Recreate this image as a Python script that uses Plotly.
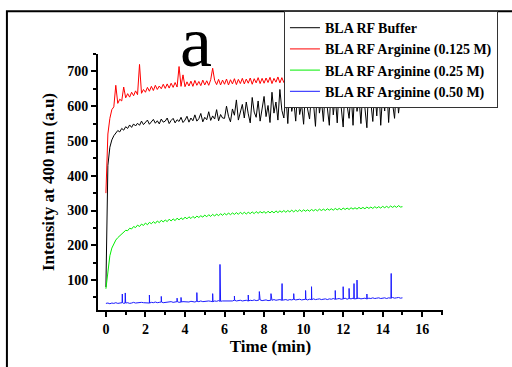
import plotly.graph_objects as go

# ---------------- data ----------------
time_min = [round(i * 0.1, 1) for i in range(151)]

buffer_vals = [
    80, 430, 482, 503, 515, 522, 530, 526, 536, 531,
    541, 536, 546, 539, 549, 543, 551, 545, 557, 547,
    553, 560, 548, 556, 562, 551, 558, 549, 563, 554,
    557, 566, 550, 559, 565, 552, 561, 556, 568, 553,
    560, 571, 554, 566, 558, 575, 557, 564, 579, 555,
    568, 561, 584, 559, 572, 563, 590, 558, 576, 566,
    565, 600, 571, 555, 592, 574, 618, 560, 585, 605,
    566, 612, 578, 552, 625, 583, 568, 615, 557, 596,
    628, 570, 602, 553, 640, 580, 612, 560, 648, 588,
    566, 635, 550, 655, 585, 618, 557, 645, 576, 605,
    548, 650, 592, 563, 636, 608, 542, 662, 580, 620,
    556, 645, 598, 545, 668, 575, 628, 552, 655, 590,
    540, 665, 602, 565, 640, 545, 672, 585, 625, 550,
    658, 595, 538, 668, 610, 556, 646, 572, 662, 545,
    638, 586, 666, 553, 650, 600, 565, 658, 580, 630,
    605,
]

arg0125_vals = [
    350, 520, 565, 590, 598, 660, 608, 620, 615, 655,
    624, 636, 626, 640, 630, 644, 633, 720, 637, 648,
    640, 654, 643, 657, 645, 660, 648, 658, 650, 663,
    651, 664, 652, 666, 654, 668, 655, 714, 657, 690,
    656, 670, 658, 672, 657, 674, 660, 671, 659, 675,
    661, 673, 660, 676, 709, 674, 662, 677, 661, 675,
    663, 678, 661, 676, 664, 679, 662, 677, 665, 680,
    664, 678, 666, 681, 663, 679, 667, 682, 665, 680,
    666, 681, 668, 683, 665, 680, 669, 684, 667, 682,
    668, 683, 670, 685, 667, 682, 671, 686, 669, 684,
    670, 685, 672, 687, 669, 684, 673, 688, 671, 686,
    672, 687, 674, 689, 671, 686, 675, 690, 673, 688,
    674, 688, 676, 691, 673, 687, 677, 692, 675, 689,
    676, 690, 678, 693, 675, 689, 679, 694, 677, 691,
    678, 692, 680, 695, 677, 690, 681, 696, 679, 693,
    684,
]

arg025_vals = [
    75, 130, 170, 192, 205, 215, 222, 228, 233, 237,
    243, 242, 249, 247, 254, 251, 258, 254, 261, 257,
    264, 259, 266, 262, 268, 263, 270, 265, 272, 267,
    273, 268, 275, 270, 276, 271, 278, 273, 279, 274,
    281, 276, 282, 277, 283, 278, 284, 280, 285, 281,
    287, 282, 288, 283, 289, 284, 290, 285, 291, 286,
    292, 287, 293, 288, 293, 289, 294, 289, 295, 290,
    295, 290, 295, 291, 296, 291, 297, 292, 297, 293,
    297, 292, 298, 293, 298, 293, 299, 294, 299, 295,
    300, 295, 300, 296, 301, 296, 301, 297, 302, 297,
    302, 298, 302, 298, 303, 299, 303, 299, 304, 300,
    304, 300, 305, 301, 305, 301, 306, 302, 306, 302,
    307, 303, 307, 303, 308, 304, 308, 304, 309, 305,
    309, 305, 310, 306, 310, 306, 311, 307, 311, 307,
    312, 308, 312, 308, 313, 309, 313, 309, 314, 310,
    311,
]

arg050_base = [
    33, 34, 32, 34, 33, 35, 33, 34, 35, 33,
    34, 35, 33, 34, 36, 34, 35, 34, 36, 35,
    35, 36, 34, 36, 35, 37, 35, 36, 37, 35,
    36, 37, 36, 38, 36, 37, 38, 36, 37, 38,
    37, 38, 37, 39, 38, 37, 39, 38, 40, 38,
    39, 38, 40, 39, 38, 40, 39, 41, 39, 40,
    40, 41, 39, 41, 40, 42, 40, 41, 42, 40,
    41, 42, 40, 42, 41, 43, 41, 42, 43, 41,
    42, 43, 41, 43, 42, 44, 42, 43, 44, 42,
    43, 44, 42, 44, 43, 45, 43, 44, 45, 43,
    44, 45, 43, 45, 44, 46, 44, 45, 46, 44,
    45, 46, 44, 46, 45, 47, 45, 46, 47, 45,
    46, 48, 45, 47, 46, 48, 46, 47, 48, 46,
    47, 48, 46, 48, 47, 49, 47, 48, 49, 47,
    48, 49, 47, 49, 48, 50, 48, 49, 50, 48,
    49,
]
spike_times = [0.83, 0.98, 2.2, 2.8, 3.6, 3.8, 4.6, 5.4, 5.77, 6.5, 7.2,
               7.76, 8.35, 8.91, 9.5, 10.1, 10.4, 11.6, 12.0, 12.3, 12.55,
               12.7, 13.2, 14.43]
spike_vals = [60, 63, 57, 53, 48, 50, 64, 61, 145, 54, 57,
              67, 61, 90, 61, 70, 81, 70, 81, 76, 90,
              100, 60, 119]

series_names = ["BLA RF Buffer", "BLA RF Arginine (0.125 M)",
                "BLA RF Arginine (0.25 M)", "BLA RF Arginine (0.50 M)"]
series_colors = ["#000000", "#ff0000", "#00ee00", "#1a1aff"]

x_ticks = [0, 2, 4, 6, 8, 10, 12, 14, 16]
y_ticks = [100, 200, 300, 400, 500, 600, 700]

# --------------- build blue series with spikes ---------------
pts = list(zip(time_min, arg050_base))
for st, sv in zip(spike_times, spike_vals):
    base = arg050_base[int(round(st * 10))]
    pts += [(st - 0.012, base), (st, sv), (st + 0.012, base)]
pts.sort(key=lambda p: p[0])
blue_t = [p[0] for p in pts]
blue_v = [p[1] for p in pts]

FONT = "Liberation Serif"

fig = go.Figure()
series = [(time_min, buffer_vals), (time_min, arg0125_vals),
          (time_min, arg025_vals), (blue_t, blue_v)]
for (xs, ys), name, col in zip(series, series_names, series_colors):
    fig.add_trace(go.Scatter(x=xs, y=ys, mode="lines", name=name,
                             line=dict(color=col, width=1)))

fig.update_layout(
    width=512, height=367,
    margin=dict(l=98, r=69, t=53, b=57),
    paper_bgcolor="white", plot_bgcolor="white",
    showlegend=True,
    legend=dict(x=0.539, y=1.163, xanchor="left", yanchor="top",
                bgcolor="white", bordercolor="#333", borderwidth=1,
                font=dict(family=FONT, size=14, color="black", weight="bold"),
                tracegroupgap=0, itemwidth=30),
    xaxis=dict(range=[-0.4, 17.05], showline=True, linecolor="black", linewidth=2,
               ticks="outside", ticklen=5, tickwidth=2, tickcolor="black",
               tickvals=x_ticks, ticktext=[str(v) for v in x_ticks],
               minor=dict(dtick=1, tick0=0, ticks="outside", ticklen=3, tickwidth=1.5,
                          tickcolor="black"),
               showgrid=False, zeroline=False,
               tickfont=dict(family=FONT, size=14, color="black", weight="bold"),
               title=dict(text="Time (min)", standoff=0,
                          font=dict(family=FONT, size=17, color="black", weight="bold"))),
    yaxis=dict(range=[14, 750], showline=True, linecolor="black", linewidth=2,
               ticks="outside", ticklen=5, tickwidth=2, tickcolor="black",
               tickvals=y_ticks, ticktext=[str(v) for v in y_ticks],
               minor=dict(dtick=50, tick0=0, ticks="outside", ticklen=3, tickwidth=1.5,
                          tickcolor="black"),
               showgrid=False, zeroline=False,
               tickfont=dict(family=FONT, size=14, color="black", weight="bold"),
               title=dict(text="Intensity at 400 nm (a.u)", standoff=8,
                          font=dict(family=FONT, size=17, color="black", weight="bold"))),
    shapes=[dict(type="rect", xref="paper", yref="paper",
                 x0=-0.264, x1=1.26, y0=-0.32, y1=1.167,
                 line=dict(color="black", width=2), fillcolor="rgba(0,0,0,0)")],
    annotations=[dict(text="a", xref="paper", yref="paper", x=0.283, y=1.0467,
                      xanchor="center", yanchor="middle", showarrow=False,
                      borderpad=0,
                      font=dict(family=FONT, size=72, color="black"))],
)

fig.write_html("out.html")
